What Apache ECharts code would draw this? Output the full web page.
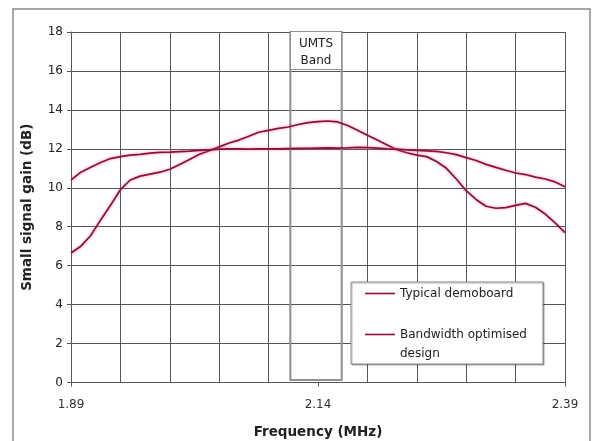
<!DOCTYPE html>
<html>
<head>
<meta charset="utf-8">
<script src="https://cdn.jsdelivr.net/npm/echarts@6/dist/echarts.min.js"></script>
<style>
  html, body { margin: 0; padding: 0; background: #fff; }
  #chart { width: 595px; height: 441px; }
</style>
</head>
<body>
<div id="chart"></div>
<script>
// Frequency sweep points (MHz)
const freq = [
  1.89, 1.90, 1.91, 1.92, 1.93, 1.94, 1.95, 1.96, 1.97, 1.98,
  1.99, 2.00, 2.01, 2.02, 2.03, 2.04, 2.05, 2.06, 2.07, 2.08,
  2.09, 2.10, 2.11, 2.12, 2.13, 2.14, 2.15, 2.16, 2.17, 2.18,
  2.19, 2.20, 2.21, 2.22, 2.23, 2.24, 2.25, 2.26, 2.27, 2.28,
  2.29, 2.30, 2.31, 2.32, 2.33, 2.34, 2.35, 2.36, 2.37, 2.38, 2.39
];

// Small signal gain (dB), typical demoboard
const gainTypical = [
  6.65, 7.0, 7.55, 8.35, 9.1, 9.9, 10.4, 10.6, 10.7, 10.8,
  10.95, 11.2, 11.45, 11.72, 11.9, 12.1, 12.3, 12.45, 12.65, 12.85,
  12.95, 13.05, 13.12, 13.25, 13.35, 13.4, 13.43, 13.38, 13.2, 12.95,
  12.7, 12.45, 12.2, 11.95, 11.8, 11.68, 11.6, 11.35, 11.0, 10.45,
  9.85, 9.4, 9.05, 8.95, 8.98, 9.1, 9.2, 9.0, 8.65, 8.2, 7.7
];

// Small signal gain (dB), bandwidth optimised design
const gainOptimised = [
  10.4, 10.8, 11.05, 11.3, 11.5, 11.6, 11.68, 11.72, 11.78, 11.82,
  11.83, 11.86, 11.88, 11.92, 11.95, 11.98, 12.0, 12.0, 11.99, 12.0,
  12.0, 12.0, 12.01, 12.02, 12.03, 12.04, 12.05, 12.04, 12.05, 12.07,
  12.06, 12.04, 12.0, 11.98, 11.95, 11.92, 11.9, 11.87, 11.8, 11.7,
  11.55, 11.4, 11.2, 11.05, 10.9, 10.76, 10.68, 10.55, 10.45, 10.3, 10.05
];

// UMTS band limits (MHz)
const umtsBand = [2.112, 2.164];

const seriesNames = ['Typical demoboard', 'Bandwidth optimised design'];
// legend text: the two-line entry gets a leading blank line so its first
// line sits level with the line sample
const legendText = {
  'Typical demoboard': 'Typical demoboard',
  'Bandwidth optimised design': '\nBandwidth optimised\ndesign'
};

const FONT = '"DejaVu Sans", Verdana, sans-serif';
const gridColor = '#555';
// one colour per vertical grid line; the line under the band box is hidden
const vLineColors = [gridColor, gridColor, gridColor, gridColor, gridColor,
  'rgba(0,0,0,0)', gridColor, gridColor, gridColor, gridColor, gridColor];

const lineStyleBase = {
  width: 1.7,
  shadowColor: 'rgba(240,90,135,0.7)',
  shadowBlur: 3
};

const chart = echarts.init(document.getElementById('chart'), null, { renderer: 'canvas' });

chart.setOption({
  backgroundColor: '#ffffff',
  animation: false,
  textStyle: { fontFamily: FONT },
  grid: {
    left: 71, top: 32, right: 30, bottom: 58.5,
    containLabel: false,
    outerBoundsMode: 'none'
  },
  graphic: [{
    type: 'rect',
    shape: { x: 13, y: 9, width: 577, height: 445 },
    style: { fill: 'none', stroke: '#8a8a8a', lineWidth: 1.5 },
    silent: true, z: -10
  }],
  legend: {
    orient: 'vertical',
    left: 351,
    top: 282,
    padding: [2, 16, 1, 14],
    itemGap: 3,
    itemWidth: 30,
    itemHeight: 14,
    backgroundColor: '#ffffff',
    borderColor: '#8a8a8a',
    borderWidth: 1,
    shadowColor: 'rgba(0,0,0,0.3)',
    shadowOffsetX: 1,
    shadowOffsetY: 1,
    shadowBlur: 1,
    formatter: name => legendText[name],
    textStyle: { fontFamily: FONT, fontSize: 12, color: '#222', lineHeight: 19 },
    data: [
      { name: seriesNames[0], icon: 'path://M0,0 L30,0 L30,1.6 L0,1.6 Z' },
      { name: seriesNames[1], icon: 'path://M0,0 L30,0 L30,1.6 L0,1.6 Z' }
    ]
  },
  xAxis: [
    {
      type: 'value',
      min: 1.89,
      max: 2.39,
      interval: 0.05,
      axisLine: { show: true, lineStyle: { color: gridColor, width: 1 } },
      axisTick: { show: false },
      axisLabel: { show: false },
      splitLine: { show: true, lineStyle: { color: vLineColors, width: 1 } },
      name: 'Frequency (MHz)',
      nameLocation: 'middle',
      nameGap: 43,
      nameTextStyle: { fontFamily: FONT, fontSize: 13.5, fontWeight: 'bold', color: '#222' }
    },
    {
      type: 'value',
      position: 'bottom',
      min: 1.89,
      max: 2.39,
      interval: 0.25,
      axisLine: { show: false },
      axisTick: { show: true, length: 4, lineStyle: { color: gridColor } },
      axisLabel: {
        show: true, margin: 16, fontFamily: FONT, fontSize: 12, color: '#333',
        formatter: v => v.toFixed(2)
      },
      splitLine: { show: false }
    }
  ],
  yAxis: {
    type: 'value',
    min: 0,
    max: 18,
    interval: 2,
    axisLine: { show: true, lineStyle: { color: gridColor, width: 1 } },
    axisTick: { show: true, length: 4, lineStyle: { color: gridColor } },
    axisLabel: { margin: 8, fontFamily: FONT, fontSize: 12, color: '#222' },
    splitLine: { show: true, lineStyle: { color: gridColor, width: 1 } },
    name: 'Small signal gain (dB)',
    nameLocation: 'middle',
    nameGap: 37,
    nameTextStyle: { fontFamily: FONT, fontSize: 13.5, fontWeight: 'bold', color: '#222' }
  },
  series: [
    {
      name: seriesNames[0],
      type: 'line',
      xAxisIndex: 0,
      showSymbol: false,
      data: freq.map((f, i) => [f, gainTypical[i]]),
      color: '#8a1038',
      lineStyle: Object.assign({ color: '#8a1038' }, lineStyleBase),
      z: 3,
      markArea: {
        silent: true,
        itemStyle: { color: 'rgba(0,0,0,0)', borderColor: '#8f8f8f', borderWidth: 2 },
        label: {
          show: true,
          position: 'insideTop',
          distance: 1,
          formatter: 'UMTS\nBand',
          fontFamily: FONT,
          fontSize: 12,
          color: '#222',
          lineHeight: 17,
          align: 'center',
          width: 50,
          padding: [3, 0, 0, 0],
          backgroundColor: '#ffffff',
          borderColor: '#8f8f8f',
          borderWidth: 1
        },
        data: [[
          { xAxis: umtsBand[0], yAxis: 18 },
          { xAxis: umtsBand[1], yAxis: 0.13 }
        ]]
      }
    },
    {
      name: seriesNames[1],
      type: 'line',
      xAxisIndex: 0,
      showSymbol: false,
      data: freq.map((f, i) => [f, gainOptimised[i]]),
      color: '#8e1238',
      lineStyle: Object.assign({ color: '#8e1238' }, lineStyleBase),
      z: 3
    }
  ]
});
</script>
</body>
</html>
